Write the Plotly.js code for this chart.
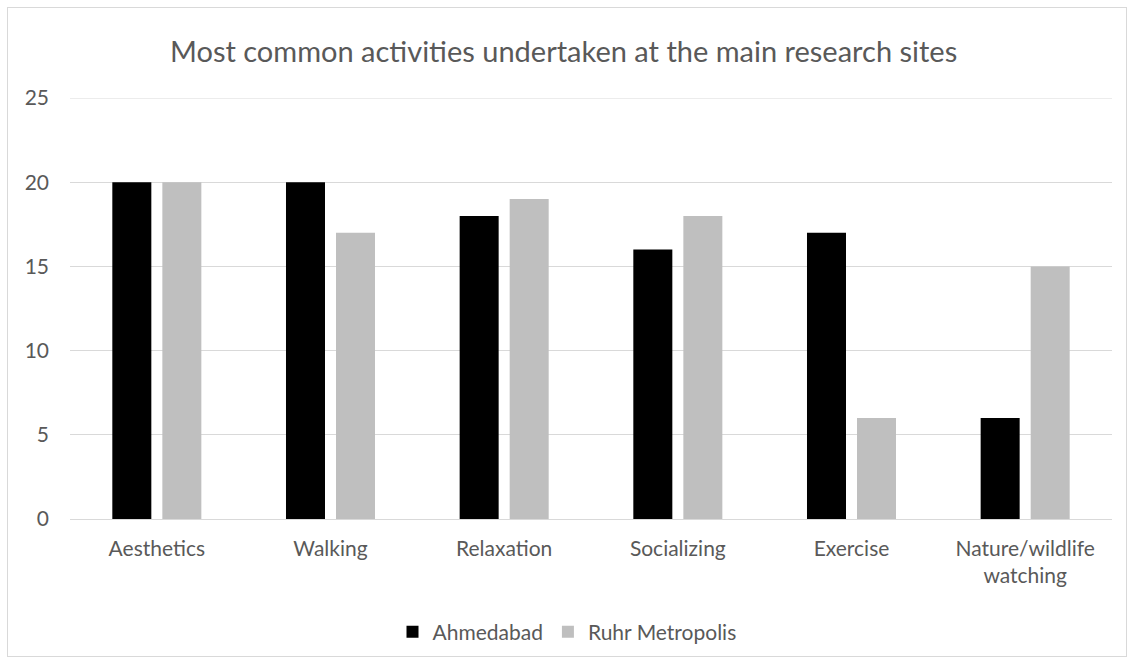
<!DOCTYPE html>
<html>
<head>
<meta charset="utf-8">
<script src="https://cdn.plot.ly/plotly-3.0.1.min.js"></script>
<style>
html,body{margin:0;padding:0;background:#fff;}
#wrap{position:relative;width:1134px;height:664px;}
#chart{width:1134px;height:664px;}
#frame{position:absolute;left:7px;top:7px;width:1118px;height:648px;border:1px solid #d9d9d9;pointer-events:none;}
</style>
</head>
<body>
<div id="wrap"><div id="chart"></div><div id="frame"></div></div>
<script>
const categories = ["Aesthetics", "Walking", "Relaxation", "Socializing", "Exercise", "Nature/wildlife<br>watching"];
const seriesNames = ["Ahmedabad", "Ruhr Metropolis"];
const ahmedabad = [20, 20, 18, 16, 17, 6];
const ruhr = [20, 17, 19, 18, 6, 15];
const yTicks = [0, 5, 10, 15, 20, 25];

const fontFam = "Lato, 'Open Sans', 'DejaVu Sans', sans-serif";
const txt = '#595959';

const traces = [
  {type:'bar', name:seriesNames[0], x:categories, y:ahmedabad, marker:{color:'#000000'}, hoverinfo:'skip'},
  {type:'bar', name:seriesNames[1], x:categories, y:ruhr, marker:{color:'#bfbfbf'}, hoverinfo:'skip'}
];

const yMax = yTicks[yTicks.length - 1];

const layout = {
  width:1134, height:664,
  margin:{l:70, r:22, t:98, b:145},
  paper_bgcolor:'#ffffff', plot_bgcolor:'#ffffff',
  font:{family:fontFam, color:txt, size:21},
  title:{text:'Most common activities undertaken at the main research sites', font:{family:fontFam, size:29, color:txt}, x:0.497, xanchor:'center', xref:'container', y:1-52/664, yanchor:'middle'},
  barmode:'group', bargap:0.424, bargroupgap:0.22,
  xaxis:{type:'category', showgrid:false, showline:false, zeroline:false, ticks:'', tickfont:{size:21, color:txt}, ticklabelstandoff:15, fixedrange:true},
  yaxis:{range:[0, yMax], tickvals:yTicks, ticktext:yTicks.map(String), showgrid:true, gridcolor:'#d9d9d9', gridwidth:1, zeroline:true, zerolinecolor:'#d9d9d9', zerolinewidth:1, showline:false, ticks:'', tickfont:{size:21, color:txt}, ticklabelstandoff:20, fixedrange:true},
  shapes:[{type:'line', xref:'paper', x0:0, x1:1, yref:'y', y0:yMax, y1:yMax, line:{color:'#d9d9d9', width:1}, layer:'below'}],
  showlegend:true,
  legend:{orientation:'h', x:0.5, xanchor:'center', xref:'container', y:1-632/664, yref:'container', yanchor:'middle', font:{size:21, color:txt}, itemwidth:30, traceorder:'normal'}
};

Plotly.newPlot('chart', traces, layout, {displayModeBar:false, staticPlot:true});
</script>
</body>
</html>
